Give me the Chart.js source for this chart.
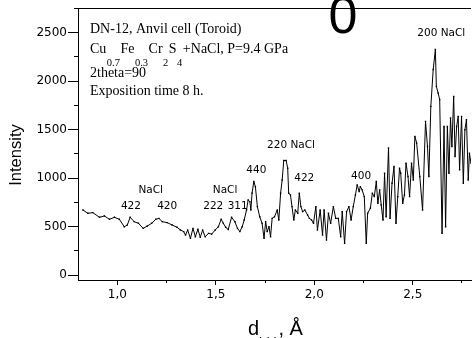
<!DOCTYPE html>
<html><head><meta charset="utf-8">
<script src="https://cdn.jsdelivr.net/npm/chart.js@4.4.1/dist/chart.umd.min.js"></script>
<style>html,body{margin:0;padding:0;background:#fff;overflow:hidden}canvas{display:block}</style>
</head><body>
<canvas id="c" width="475" height="338"></canvas>
<script>
const dSpacing = [0.825,0.850,0.875,0.909,0.934,0.960,0.985,1.010,1.035,1.050,
1.065,1.085,1.107,1.131,1.152,1.174,1.195,1.211,1.228,1.253,
1.278,1.303,1.320,1.337,1.346,1.357,1.371,1.384,1.396,1.409,
1.421,1.433,1.446,1.463,1.479,1.497,1.513,1.527,1.538,1.550,
1.563,1.580,1.597,1.610,1.622,1.634,1.644,1.656,1.664,1.673,
1.678,1.684,1.693,1.701,1.711,1.723,1.735,1.745,1.753,1.761,
1.770,1.778,1.786,1.798,1.812,1.820,1.829,1.837,1.845,1.857,
1.865,1.870,1.879,1.887,1.896,1.904,1.916,1.924,1.932,1.941,
1.952,1.966,1.975,1.986,1.996,2.008,2.016,2.030,2.042,2.050,
2.062,2.072,2.083,2.097,2.109,2.122,2.134,2.142,2.154,2.164,
2.176,2.187,2.198,2.209,2.218,2.228,2.234,2.243,2.254,2.264,
2.271,2.285,2.295,2.305,2.315,2.323,2.332,2.340,2.349,2.357,
2.365,2.377,2.385,2.395,2.405,2.415,2.424,2.433,2.439,2.449,
2.458,2.466,2.476,2.484,2.494,2.503,2.511,2.520,2.536,2.550,
2.565,2.575,2.582,2.592,2.604,2.615,2.620,2.629,2.637,2.649,
2.659,2.667,2.676,2.684,2.692,2.699,2.708,2.715,2.723,2.731,
2.738,2.748,2.757,2.765,2.773,2.782,2.788,2.796,2.810,2.830];
const intensity = [671,637,644,596,610,575,596,575,499,515,
596,551,534,482,506,534,575,585,551,541,
517,493,465,448,413,465,379,482,396,472,
389,465,396,430,423,465,499,575,534,493,
470,596,550,482,448,499,568,671,775,757,
671,844,964,912,706,602,534,379,551,448,
499,396,585,602,671,568,844,981,1181,1181,
1102,844,826,706,568,671,637,844,706,654,
671,620,585,568,534,706,465,671,413,671,
361,637,534,706,585,585,396,654,327,654,
706,568,706,826,930,861,912,878,809,327,
637,689,844,809,964,740,878,723,568,1050,
602,1309,585,947,1119,534,809,1102,1050,740,
826,1154,1016,809,1154,981,1429,1360,1016,671,
1584,1326,1016,1739,2118,2324,1945,1877,1808,430,
1532,499,1532,1050,1619,1326,1842,1223,1532,1636,
1085,1636,947,1498,1601,981,1257,1154,1400,1100];

// axis tick values
const xTickValues = [1.0, 1.5, 2.0, 2.5];
const xMinorTickValues = [1.0, 1.25, 1.5, 1.75, 2.0, 2.25, 2.5, 2.75];
const yTickValues = [0, 500, 1000, 1500, 2000, 2500];
const yMinorTickValues = [0, 250, 500, 750, 1000, 1250, 1500, 1750, 2000, 2250, 2500, 2750];

// peak annotations (text, anchored at d / intensity)
const peakLabels = ['NaCl','422','420','NaCl','222','311','440','220 NaCl','422','400','200 NaCl'];
const peakLabelD = [1.169,1.069,1.253,1.547,1.487,1.611,1.706,1.882,1.949,2.238,2.645];
const peakLabelI = [878,706,706,878,706,706,1085,1333,999,1023,2490];

const infoLine1 = 'DN-12, Anvil cell (Toroid)';
const infoLine2 = [['Cu',0],['0.7',1],['Fe',0],['0.3',1],['Cr',0],['2',1],['S',0],['4',1],['+NaCl, P=9.4 GPa',0]];
const infoLine3 = '2theta=90';
const infoLine4 = 'Exposition time 8 h.';
const titleText = '0';
const yTitle = 'Intensity';
const xTitleMain = 'd', xTitleSub = 'hkl', xTitleTail = ', Å';

const X_MIN = 0.8, X_MAX = 2.796, Y_MIN = -50, Y_MAX = 2750;

const points = dSpacing.map((d, i) => ({x: d, y: intensity[i]}));

const decor = {
  id: 'decor',
  beforeDatasetsDraw(chart) {
    const ctx = chart.ctx, xs = chart.scales.x, ys = chart.scales.y;
    ctx.save();
    ctx.fillStyle = '#000';
    ctx.font = '10.5px "DejaVu Sans"';
    ctx.textAlign = 'center';
    ctx.textBaseline = 'middle';
    peakLabels.forEach((t, i) => {
      ctx.fillText(t, xs.getPixelForValue(peakLabelD[i]), ys.getPixelForValue(peakLabelI[i]));
    });
    ctx.textAlign = 'left';
    ctx.textBaseline = 'alphabetic';
    const main = '14px "Liberation Serif"', sub = '10.5px "Liberation Serif"';
    ctx.font = main;
    ctx.fillText(infoLine1, 90, 33);
    let x = 90;
    infoLine2.forEach(([t, s]) => {
      ctx.font = s ? sub : main;
      ctx.fillText(t, x, s ? 66 : 53);
      x += ctx.measureText(t).width + 0.5;
    });
    ctx.font = main;
    ctx.fillText(infoLine3, 90, 76.5);
    ctx.fillText(infoLine4, 90, 94.5);
    ctx.restore();
  },
  afterDraw(chart) {
    const ctx = chart.ctx, a = chart.chartArea;
    ctx.save();
    ctx.strokeStyle = '#000';
    ctx.lineWidth = 1;
    ctx.beginPath();
    ctx.moveTo(a.left, Math.round(a.top) + 0.5);
    ctx.lineTo(a.right, Math.round(a.top) + 0.5);
    ctx.stroke();
    ctx.fillStyle = '#000';
    ctx.font = '52px "Liberation Sans"';
    ctx.textAlign = 'center';
    ctx.textBaseline = 'alphabetic';
    ctx.fillText(titleText, 343, 33);
    ctx.save();
    ctx.translate(20.5, 155);
    ctx.rotate(-Math.PI / 2);
    ctx.font = '16.5px "Liberation Sans"';
    ctx.textAlign = 'center';
    ctx.fillText(yTitle, 0, 0);
    ctx.restore();
    ctx.textAlign = 'left';
    ctx.font = '20px "Liberation Sans"';
    ctx.fillText(xTitleMain, 248, 335);
    let x = 248 + ctx.measureText(xTitleMain).width;
    ctx.font = '13.5px "Liberation Sans"';
    ctx.fillText(xTitleSub, x, 346);
    x += ctx.measureText(xTitleSub).width + 2;
    ctx.font = '20px "Liberation Sans"';
    ctx.fillText(xTitleTail, x, 335);
    ctx.restore();
  }
};

const tickFont = {family: '"DejaVu Sans"', size: 12};
const setTicks = vals => s => { s.ticks = vals.map(v => ({value: v})); };

new Chart(document.getElementById('c'), {
  type: 'line',
  data: {
    datasets: [{
      data: points,
      borderColor: '#000',
      backgroundColor: '#000',
      borderWidth: 1,
      pointRadius: 1,
      pointBorderWidth: 0,
      pointStyle: 'rect',
      tension: 0,
      fill: false
    }]
  },
  options: {
    responsive: false,
    animation: false,
    devicePixelRatio: 1,
    layout: {padding: {top: 8, right: 0, left: 0, bottom: 0}},
    plugins: {legend: {display: false}, title: {display: false}, tooltip: {enabled: false}},
    scales: {
      x: {
        type: 'linear', position: 'bottom', weight: 1,
        min: X_MIN, max: X_MAX,
        afterBuildTicks: setTicks(xTickValues),
        ticks: {color: '#000', font: tickFont, padding: 3, maxRotation: 0, autoSkip: false,
          callback: v => v.toFixed(1).replace('.', ',')},
        grid: {drawOnChartArea: false, tickLength: 5, color: '#000', lineWidth: 1},
        border: {display: true, color: '#000', width: 1},
        afterFit: s => { s.height = 58; }
      },
      xMinor: {
        type: 'linear', position: 'bottom', weight: 0,
        min: X_MIN, max: X_MAX,
        afterBuildTicks: setTicks(xMinorTickValues),
        ticks: {display: false, autoSkip: false},
        grid: {drawOnChartArea: false, tickLength: 3, color: '#000', lineWidth: 1},
        border: {display: false},
        afterFit: s => { s.height = 0; }
      },
      y: {
        type: 'linear', position: 'left', weight: 1,
        min: Y_MIN, max: Y_MAX,
        afterBuildTicks: setTicks(yTickValues),
        ticks: {color: '#000', font: tickFont, padding: 1, autoSkip: false,
          callback: v => String(v)},
        grid: {drawOnChartArea: false, tickLength: 10, color: '#000', lineWidth: 1},
        border: {display: true, color: '#000', width: 1},
        afterFit: s => { s.width = 78; }
      },
      yMinor: {
        type: 'linear', position: 'left', weight: 0,
        min: Y_MIN, max: Y_MAX,
        afterBuildTicks: setTicks(yMinorTickValues),
        ticks: {display: false, autoSkip: false},
        grid: {drawOnChartArea: false, tickLength: 4, color: '#000', lineWidth: 1},
        border: {display: false},
        afterFit: s => { s.width = 0; }
      }
    }
  },
  plugins: [decor]
});
</script>
</body></html>
